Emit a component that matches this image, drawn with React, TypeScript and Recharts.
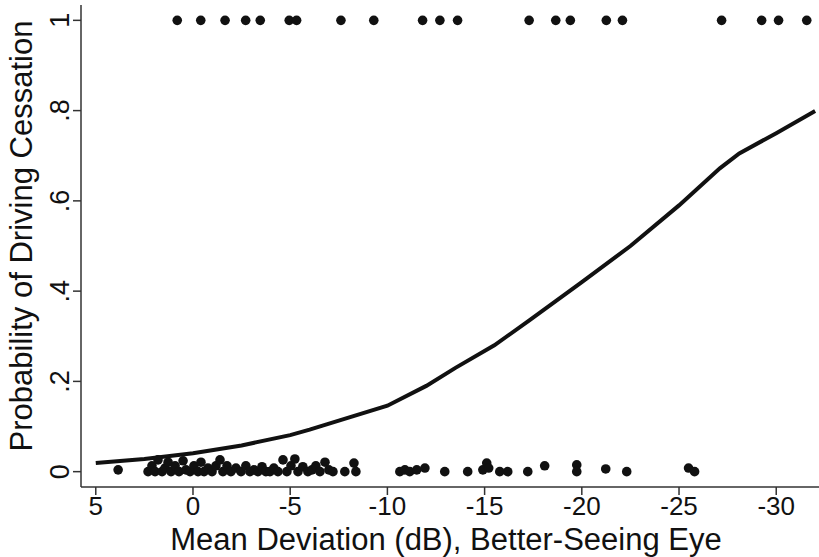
import React from 'react';
import { ComposedChart, Scatter, Line, XAxis, YAxis } from 'recharts';

// Drivers who stopped driving (outcome = 1), mean deviation in dB
const ceasedMd = [
  0.81, -0.4, -1.65, -2.71, -3.46, -4.95, -5.33, -7.61, -9.3, -11.81, -12.7,
  -13.61, -17.29, -18.66, -19.41, -21.26, -22.09, -27.19, -29.25, -30.12, -31.57,
];

// Drivers still driving (outcome = 0), jittered slightly above zero
const drivingMd = [
  3.85, 2.31, 2.11, 1.95, 1.8, 1.59, 1.44, 1.28, 1.13, 0.92, 0.72, 0.51, 0.36, 0.15,
  -0.05, -0.26, -0.41, -0.57, -0.77, -0.98, -1.18, -1.39, -1.54, -1.75, -1.95, -2.21,
  -2.47, -2.72, -2.93, -3.14, -3.34, -3.55, -3.75, -3.96, -4.16, -4.37, -4.63, -4.83,
  -5.04, -5.24, -5.4, -5.65, -5.91, -6.12, -6.32, -6.53, -6.79, -6.99, -7.2, -7.81,
  -8.28, -8.38, -10.64, -10.9, -11.15, -11.51, -11.93, -12.95, -14.13, -14.91, -15.11,
  -15.21, -15.78, -16.19, -17.22, -18.09, -19.74, -19.74, -21.23, -22.31, -25.49, -25.8,
];
const drivingJitter = [
  0.004, 0, 0.013, 0, 0.026, 0, 0.008, 0.021, 0, 0.013, 0, 0.024, 0.004, 0,
  0.013, 0, 0.021, 0, 0.008, 0, 0.013, 0.026, 0, 0.013, 0, 0.008,
  0, 0.013, 0, 0.004, 0, 0.011, 0, 0, 0.008, 0, 0.026, 0,
  0.013, 0.028, 0, 0.011, 0, 0.004, 0.013, 0, 0.021, 0.004, 0, 0,
  0.019, 0, 0, 0.004, 0, 0.004, 0.008, 0, 0, 0.004, 0.019,
  0.008, 0, 0, 0, 0.013, 0.015, 0, 0.006, 0, 0.008, 0,
];

// Predicted probability from the logistic model
const fitMd = [5, 2.5, 0, -2.5, -5, -6, -7.5, -10, -12, -13.5, -15.5, -17.3, -20, -22.5, -25, -27.1, -28.1, -30, -32];
const fitProb = [0.019, 0.028, 0.041, 0.058, 0.081, 0.093, 0.113, 0.146, 0.19, 0.23, 0.28, 0.335, 0.42, 0.5, 0.59, 0.672, 0.705, 0.75, 0.799];

const xTicks = [5, 0, -5, -10, -15, -20, -25, -30];
const yTicks = [0, 0.2, 0.4, 0.6, 0.8, 1];

const ceased = ceasedMd.map(md => ({ md, p: 1 }));
const driving = drivingMd.map((md, i) => ({ md, p: drivingJitter[i] }));
const fitted = fitMd.map((md, i) => ({ md, p: fitProb[i] }));

const FONT = '"Liberation Sans", Arial, sans-serif';
const INK = '#111';

const formatProb = (v: number) => (v === 0 ? '0' : v === 1 ? '1' : String(v).replace(/^0/, ''));

const Dot = (props: any) => <circle cx={props.cx} cy={props.cy} r={4.8} fill={INK} />;

const YTick = ({ x, y, payload }: any) => (
  <text
    x={x - 2}
    y={y}
    transform={`rotate(-90 ${x - 2} ${y})`}
    textAnchor="middle"
    fontSize={27}
    fontFamily={FONT}
    fill={INK}
  >
    {formatProb(payload.value)}
  </text>
);

const YTitle = ({ viewBox }: any) => {
  const cx = 32;
  const cy = viewBox.y + viewBox.height / 2 - 10;
  return (
    <text
      x={cx}
      y={cy}
      transform={`rotate(-90 ${cx} ${cy})`}
      textAnchor="middle"
      fontSize={31}
      fontFamily={FONT}
      fill={INK}
    >
      Probability of Driving Cessation
    </text>
  );
};

const XTitle = ({ viewBox }: any) => (
  <text
    x={viewBox.x + viewBox.width / 2 - 4}
    y={550}
    textAnchor="middle"
    fontSize={31}
    fontFamily={FONT}
    fill={INK}
  >
    Mean Deviation (dB), Better-Seeing Eye
  </text>
);

const App = () => (
  <div style={{ position: 'absolute', left: 0, top: 0, width: 819, height: 557, background: '#fff' }}>
    <ComposedChart width={819} height={557} margin={{ top: 5, right: 0, bottom: 0, left: 0 }}>
      <XAxis
        dataKey="md"
        type="number"
        domain={[-32.2, 5.76]}
        reversed
        allowDataOverflow
        ticks={xTicks}
        height={70}
        tickSize={8}
        tickMargin={2}
        stroke="#333"
        strokeWidth={1.5}
        tick={{ fontSize: 26, fontFamily: FONT, fill: INK }}
        label={<XTitle />}
      />
      <YAxis
        dataKey="p"
        type="number"
        domain={[-0.034, 1.034]}
        allowDataOverflow
        ticks={yTicks}
        width={81}
        tickSize={8}
        stroke="#333"
        strokeWidth={1.5}
        tick={<YTick />}
        label={<YTitle />}
      />
      <Line
        data={fitted}
        dataKey="p"
        type="linear"
        stroke={INK}
        strokeWidth={4}
        dot={false}
        activeDot={false}
        isAnimationActive={false}
      />
      <Scatter data={driving} dataKey="p" shape={<Dot />} isAnimationActive={false} />
      <Scatter data={ceased} dataKey="p" shape={<Dot />} isAnimationActive={false} />
    </ComposedChart>
  </div>
);

export default App;
